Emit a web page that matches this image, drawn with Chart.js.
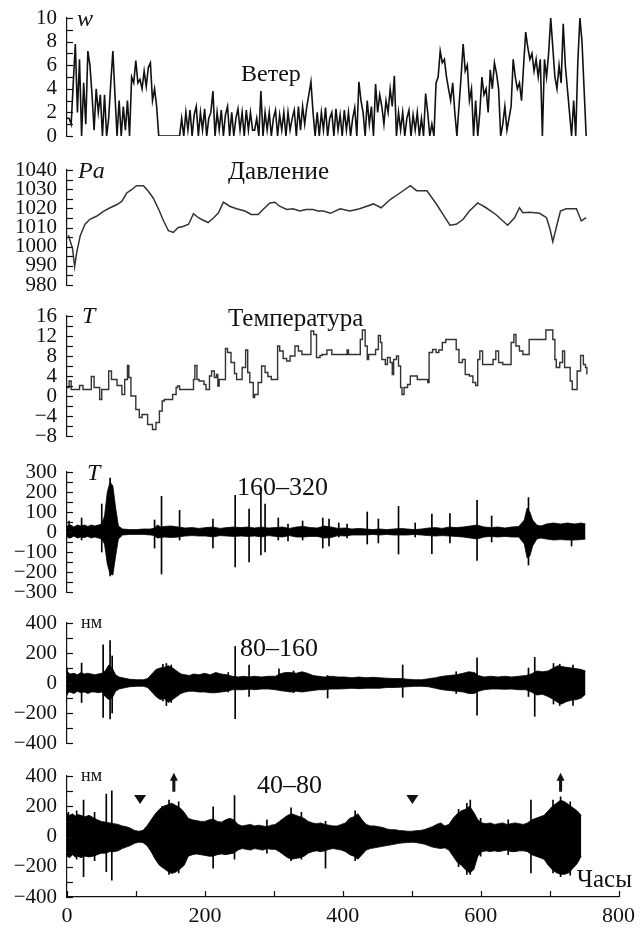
<!DOCTYPE html>
<html><head><meta charset="utf-8">
<script src="https://cdn.jsdelivr.net/npm/chart.js@4.4.1/dist/chart.umd.min.js"></script>
<style>
html,body{margin:0;padding:0;background:#fff;width:641px;height:930px;overflow:hidden;position:relative;}
.p{position:absolute;left:0;width:641px;}
.t{position:absolute;font-family:"Liberation Serif","DejaVu Serif",serif;color:#111;white-space:nowrap;line-height:1;font-size:24px;}
.i{font-style:italic;}
</style></head><body>
<script>
// ---------------- DATA ----------------
const xTickLabels = [0, 200, 400, 600, 800];

// Wind speed, sampled every 3 hours
const windStepHours = 3;
const wind = [
  1.5,1.5,1,4.5,7.8,   2,6.5,0,4.5,1,   7.2,6,3.5,0.5,4,   2,3.5,0,3.5,0,
  1.5,4.5,7.2,3.5,0,   3,0,2.5,0.5,3,   0,5,4.5,6.4,4.5,   4.8,4,5.5,4.2,5.8,
  6.2,3,4,2.5,0,
  0,0,0,0,0,0,0,0,0,0,
  1.5,0,2,0.5,2.2,0,1.8,2.5,0,2,0.5,2.3,0,1.5,2,
  3.8,
  0,2,0.5,2.2,0,1.8,2.5,0,2,0,1.5,2.3,0.5,2,0,2.2,0.5,2,
  0.5,0.5,1.5,0,
  3.8,
  0,2,0.5,2,0,1.5,2.2,0,1.8,0.5,2,0,2,0.5,1.5,2.2,0,2.5,0.5,2.5,1,2.5,
  3.5,4.6,2,0,2,
  0,2,0.5,2.4,0,1.5,2,0,2.3,0.5,1.8,0,2.2,0.5,2,0,1.5,2.4,0,
  4.6,3,2,0,3,1,2.5,0,
  4.4,2,3.5,2.5,1,3,2,4,2.5,5.1,
  0,2,0.5,2,0,1.5,2.2,0,1.8,0.5,2,0,1.5,0,
  3.6,2,0,
  1,0,4.5,5,
  7.2,
  6.2,6.5,5,
  4,3,4.5,2,0,2.5,
  5,7.8,
  5.5,6,3,4,0,3,0,
  2,5,3.5,4,2,5.6,4,6.2,5.3,4,
  0,1,2.5,0.5,1.5,2.5,
  6.5,5,4,4.5,3,6,
  8.8,7.5,6.5,7,5.5,6.5,
  5,6.5,0,6.5,
  5,7,10,7.5,
  5,4,6,4.5,9.5,6,
  4,2,0,3,0,
  6.3,10,8,4,0
];
const windHours = wind.map((_, i) => i * windStepHours);

// Pressure
const pressureHours = [2,8,11,14,19,26,33,43,53,62, 72,79,86,93,100,110,117,124,132,139,
  146,153,160,167,175,182,189,196,203,211, 218,225,234,244,256,265,275,282,292,299,
  306,316,325,335,344,354,361,369,379,393, 407,421,441,452,465,479,494,503,518,532,
  541,551,560,570,579,591,603,617,634,644, 651,656,666,680,690,695,699,704,710,718, 733,740,747];
const pressure = [1006,999,989.5,997,1005.7,1011.7,1014.3,1016,1018.6,1020.3,
  1022,1023.7,1028,1029.7,1031.8,1031.8,1028.9,1025.4,1019.4,1013.4,
  1008.3,1007.4,1010,1010.5,1011.7,1017.2,1015.1,1013.8,1012.6,1015.1,
  1017.7,1023.2,1021.1,1019.8,1018.6,1016.8,1016.8,1019.4,1022.8,1023.2,
  1021.1,1019.4,1019.8,1018.6,1019.4,1019.4,1018.6,1018.6,1017.4,1019.8,
  1018.6,1019.8,1022.3,1020.3,1024.6,1028,1031.8,1029.2,1029.2,1022,
  1016.8,1011.2,1011.7,1014.3,1018.6,1022.8,1020.3,1016.8,1011.2,1015.1,
  1020.3,1017.7,1018,1017.4,1015.1,1009.1,1002.6,1010,1018.6,1019.8,
  1019.8,1013.4,1015.1];

// Temperature
const tempHours = [0,3,6,18,23,35,39,47,50,60, 64,72,79,83,87,89,92,99,104,108,
  116,123,128,133,137,140,152,157,159,162, 182,184,187,190,197,200,205,208,212,215,
  217,219,228,231,236,241,244,252,257,260, 263,268,270,275,280,285,289,294,303,306,
  311,316,321,328,333,338,351,355,359,364, 367,374,381,403,405,422,425,429,432,434,
  444,448,451,453,458,461,465,468,470,474, 477,480,482,485,490,494,504,519,521,526,
  531,535,540,545,560,564,569,573,579,584, 588,591,594,598,613,617,621,627,639,643,
  646,651,656,665,689,699,702,704,709,713, 716,724,727,734,739,743,746,748];
const temp = [1.7,3,1.3,2.1,1.3,3.9,1.7,-0.7,1.3,5, 3.3,2.1,0.3,3.3,6.1,3.7,0,-2.7,-4.3,-3.7,
  -5.7,-6.7,-5.3,-3,-1,-0.7,0.3,1.7,2,1.3, 3.3,6.1,3.3,3,2.3,1.3,4,5,3.7,4.3,
  2,3.3,9.5,8.7,6.7,4.5,3.3,5.7,9.2,4.7, 2.7,-0.3,0.3,2.7,6,4.7,3.9,3.3,10,9,
  7.5,7,8,10,9,8.3,13,12.3,7.7,8.1, 8.3,9.2,8.3,9.2,8.3,11.3,13.2,10,7.3,8.3,
  9.3,12.1,10.7,7.3,6.3,7.7,6.7,4.3,7.3,8, 6,1.7,0.3,1.7,2.3,4,3.3,2.7,8.7,9.3,
  8.7,9.2,10.7,11.3,9.3,6.7,7.3,4.3,4,2.7, 2.1,7.3,9,6.3,7.3,9,6.7,6.3,10.7,12.3,
  10,9,8.3,11.3,13.2,11.3,7.3,5.7,6.7,9, 5.7,3,1.3,5,8.1,6.3,5.7,4.3];

// Band 160-320 : envelope and isolated spikes
const b160Hours = [0,5,10,15,20,25,30,35,40,45, 50,54,58,62,66,70,74,80,90,100,
  110,120,126,130,135,140,150,160,170,180, 190,200,210,220,230,240,250,260,270,280,
  290,300,310,320,330,340,350,360,370,380, 390,400,410,420,430,440,450,460,470,480,
  490,500,510,520,530,540,550,560,570,580, 590,600,610,620,630,640,650,658,662,666,
  670,676,682,690,700,710,720,730,740,746];
const b160Upper = [30,35,25,35,30,35,28,35,30,35, 40,80,200,250,230,120,30,15,12,12,
  15,15,20,35,25,28,30,25,20,22, 18,22,25,18,22,25,22,25,20,25,
  20,22,25,18,25,28,22,20,30,25, 18,20,15,18,15,12,15,12,15,18,
  15,12,15,20,22,18,25,22,25,30, 35,25,22,25,20,25,28,60,120,100,
  60,35,30,40,45,40,45,40,45,40];
const b160Lower = [-25,-30,-20,-30,-25,-28,-22,-30,-25,-30, -35,-60,-160,-210,-215,-120,-35,-15,-12,-12,
  -12,-15,-18,-30,-28,-25,-28,-25,-20,-18, -20,-20,-25,-18,-20,-22,-20,-22,-20,-25,
  -18,-22,-25,-18,-25,-25,-22,-22,-30,-28, -18,-20,-15,-15,-15,-12,-15,-12,-15,-15,
  -15,-12,-15,-18,-20,-18,-20,-22,-25,-30, -35,-25,-22,-25,-22,-25,-25,-60,-130,-120,
  -70,-35,-30,-35,-40,-38,-40,-40,-38,-35];
const b160SpikeHours = [3,21,50,62,126,136,162,210,242,262,279,285,304,318,339,368,377,391,403,432,448,477,501,525,551,590,611,664,726];
const b160SpikeHi = [55,70,140,270,60,178,108,65,183,115,200,140,70,40,55,70,65,45,40,100,65,128,45,90,92,158,80,172,40];
const b160SpikeLo = [-30,-40,-100,-220,-80,-210,-40,-80,-175,-150,-115,-100,-40,-45,-40,-80,-70,-25,-30,-60,-55,-110,-25,-108,-55,-142,-50,-165,-70];

// Band 80-160
const b80Hours = [0,4,10,15,20,25,30,35,40,45, 50,55,60,65,70,75,80,90,100,110,
  116,122,128,134,140,146,152,158,164,170, 176,182,190,198,206,214,222,230,238,246,
  254,262,270,280,290,300,306,314,322,330, 338,346,354,362,370,380,390,400,410,420,
  430,440,450,460,470,480,490,500,510,520, 530,540,550,560,570,578,586,592,600,610,
  620,630,640,650,660,668,676,684,692,700, 706,712,718,726,734,740,746];
const b80Upper = [80,60,65,55,70,60,65,60,55,60, 65,80,120,100,55,40,35,25,22,22,
  30,60,90,100,105,115,100,80,60,55, 50,60,55,65,55,70,60,55,45,40,
  45,40,45,40,45,45,60,70,70,65, 75,65,50,45,40,45,40,40,35,40,
  35,38,35,32,30,30,25,22,22,28, 35,45,50,55,65,75,70,50,40,45,
  40,45,40,45,50,60,80,75,80,100, 115,110,105,100,95,90,80];
const b80Lower = [-70,-60,-70,-55,-65,-60,-70,-60,-60,-65, -60,-90,-110,-100,-55,-40,-35,-25,-22,-22,
  -30,-60,-90,-110,-105,-130,-110,-90,-70,-60, -55,-55,-60,-60,-65,-65,-60,-55,-45,-45,
  -45,-40,-45,-40,-40,-45,-50,-55,-60,-55, -60,-55,-50,-45,-45,-40,-40,-38,-35,-38,
  -35,-35,-35,-30,-30,-28,-25,-22,-22,-25, -35,-45,-50,-55,-60,-70,-70,-55,-45,-40,
  -40,-42,-40,-45,-45,-60,-80,-75,-90,-110, -130,-140,-125,-115,-110,-100,-75];
const b80SpikeHours = [0,21,52,62,65,138,143,150,232,242,262,305,326,375,483,560,590,664,673,700,709,728];
const b80SpikeHi = [100,133,255,282,180,125,130,120,70,244,120,95,80,50,120,75,167,100,171,130,125,120];
const b80SpikeLo = [-80,-130,-230,-240,-200,-120,-150,-130,-60,-238,-90,-40,-65,-100,-95,-70,-215,-90,-222,-140,-150,-150];

// Band 40-80
const b40Hours = [0,4,8,12,16,20,26,32,38,44, 50,56,62,68,74,80,86,92,98,104,
  110,116,122,128,134,140,146,152,158,164, 170,176,182,188,194,200,206,212,218,224,
  230,236,242,248,254,260,266,272,278,284, 290,296,302,308,314,320,326,332,338,344,
  350,356,362,368,374,380,386,392,398,404, 410,416,422,428,434,440,446,452,458,464,
  470,476,482,488,494,500,506,512,518,524, 530,536,542,548,554,560,566,572,578,584,
  590,596,602,608,614,620,626,632,638,644, 650,656,662,668,674,680,686,692,698,704,
  710,716,722,728,734,740,746];
const b40Upper = [150,140,150,135,145,140,130,140,125,110, 100,95,90,85,80,70,65,55,40,35,
  40,70,110,150,180,200,210,220,205,190, 160,120,110,105,100,100,110,115,100,95,
  110,120,110,80,70,75,80,70,75,70, 65,75,80,100,120,140,150,140,130,120,
  100,90,85,90,80,75,70,70,80,90, 120,130,150,110,80,70,70,65,60,50,
  45,45,40,38,35,35,38,40,45,55, 65,80,90,70,80,120,150,170,180,200,
  160,110,90,85,90,80,85,90,80,85, 90,85,80,90,110,120,130,140,170,200,
  220,240,230,210,190,170,140];
const b40Lower = [-130,-140,-120,-135,-130,-140,-130,-135,-130,-120, -110,-110,-100,-100,-95,-80,-70,-60,-45,-38,
  -40,-60,-100,-150,-190,-210,-230,-245,-235,-215, -190,-130,-120,-115,-120,-125,-130,-130,-120,-115,
  -120,-115,-110,-90,-80,-85,-90,-80,-85,-90, -80,-85,-85,-100,-120,-140,-150,-145,-140,-130,
  -110,-100,-95,-100,-95,-85,-80,-85,-90,-100, -120,-130,-150,-120,-90,-80,-75,-70,-65,-60,
  -55,-50,-45,-42,-40,-38,-40,-45,-50,-60, -70,-75,-80,-75,-90,-130,-170,-190,-220,-240,
  -220,-130,-100,-95,-100,-95,-100,-95,-90,-100, -100,-95,-95,-100,-120,-130,-140,-150,-190,-220,
  -240,-250,-250,-240,-210,-180,-130];
const b40SpikeHours = [2,14,24,40,57,65,138,148,162,212,243,290,325,340,375,418,568,580,585,600,640,673,705,716,730];
const b40SpikeHi = [160,170,240,160,280,302,200,240,230,196,270,110,190,160,100,170,180,220,240,120,110,240,240,262,230];
const b40SpikeLo = [-130,-150,-265,-160,-232,-288,-200,-250,-240,-209,-150,-110,-160,-150,-210,-160,-200,-250,-250,-130,-120,-240,-240,-266,-255];

// Event markers on the bottom panel (hours)
const triangleHours = [106, 501];
const arrowHours = [155, 716];

// ---------------- STYLE / LAYOUT ----------------
const FONT = '"Liberation Serif","DejaVu Serif",serif';
const INK = '#111';
const AXIS_X = 67, RIGHT_X = 623, PAGE_W = 641, PAD = 26;

const xy = (hs, vs) => hs.map((h, i) => ({x: h, y: vs[i]}));
const spikes = (hs, hi, lo) => hs.map((h, i) => ({x: h, y: [lo[i], hi[i]]}));
const fmt = v => String(v).replace('-', '\u2212');

const inwardTicks = {
  id: 'inwardTicks',
  afterDraw(chart) {
    const {ctx, chartArea: a, scales} = chart;
    ctx.save();
    ctx.strokeStyle = INK; ctx.lineWidth = 1.2;
    scales.y.ticks.forEach(t => {
      const py = Math.round(scales.y.getPixelForValue(t.value)) + 0.5;
      ctx.beginPath(); ctx.moveTo(a.left, py); ctx.lineTo(a.left + 6, py); ctx.stroke();
    });
    if (scales.x.options.display) {
      scales.x.ticks.forEach(t => {
        const px = Math.round(scales.x.getPixelForValue(t.value)) + 0.5;
        ctx.beginPath(); ctx.moveTo(px, a.bottom); ctx.lineTo(px, a.bottom - 6); ctx.stroke();
      });
    }
    ctx.restore();
  }
};

const markerStyle = {triTop: 274, triH: 9, triW: 12, arrowTip: 422, arrowBase: 296};
const markers = {
  id: 'markers',
  afterDraw(chart) {
    const {ctx, scales: {x, y}} = chart;
    ctx.save(); ctx.fillStyle = INK;
    triangleHours.forEach(h => {
      const px = x.getPixelForValue(h), py = y.getPixelForValue(markerStyle.triTop);
      ctx.beginPath();
      ctx.moveTo(px - markerStyle.triW / 2, py); ctx.lineTo(px + markerStyle.triW / 2, py);
      ctx.lineTo(px, py + markerStyle.triH); ctx.closePath(); ctx.fill();
    });
    arrowHours.forEach(h => {
      const px = x.getPixelForValue(h);
      const tip = y.getPixelForValue(markerStyle.arrowTip), base = y.getPixelForValue(markerStyle.arrowBase);
      ctx.beginPath();
      ctx.moveTo(px, tip); ctx.lineTo(px + 4, tip + 8); ctx.lineTo(px - 4, tip + 8); ctx.closePath(); ctx.fill();
      ctx.fillRect(px - 1.5, tip + 6, 3, base - tip - 6);
    });
    ctx.restore();
  }
};

function makePanel(top, bottom, yCfg, datasets, bottomAxis, extraPlugins) {
  const div = document.createElement('div');
  div.className = 'p';
  const extra = bottomAxis ? 40 : PAD;
  div.style.top = (top - PAD) + 'px';
  div.style.height = (bottom - top + PAD + extra) + 'px';
  const c = document.createElement('canvas');
  div.appendChild(c); document.body.appendChild(div);
  const xScale = {
    type: 'linear', min: 0, max: 800, display: !!bottomAxis, offset: false,
    ticks: {stepSize: 100, autoSkip: false, maxRotation: 0, padding: 6, color: INK,
      font: {family: FONT, size: 22},
      callback: v => xTickLabels.includes(v) ? String(v) : ''},
    grid: {display: false, drawTicks: false, offset: false},
    border: {display: true, color: INK, width: 1.2}
  };
  if (bottomAxis) xScale.afterFit = s => { s.height = 40; };
  new Chart(c, {
    type: 'line',
    data: {datasets},
    options: {
      responsive: true, maintainAspectRatio: false, animation: false,
      layout: {padding: {top: PAD, bottom: bottomAxis ? 0 : PAD, left: 0, right: PAGE_W - RIGHT_X}},
      plugins: {legend: {display: false}, tooltip: {enabled: false}},
      elements: {point: {radius: 0}},
      scales: {
        x: xScale,
        y: {
          min: yCfg.min, max: yCfg.max,
          ticks: {stepSize: yCfg.step, autoSkip: false, padding: 10, color: INK,
            font: {family: FONT, size: 21},
            callback: v => yCfg.labels.includes(v) ? fmt(v) : ''},
          grid: {display: false, drawTicks: false},
          border: {display: true, color: INK, width: 1.2},
          afterFit: s => { s.width = AXIS_X; }
        }
      }
    },
    plugins: [inwardTicks].concat(extraPlugins || [])
  });
}

function bandDatasets(hs, up, lo, sh, shi, slo) {
  return [
    {data: xy(hs, lo), borderColor: '#000', borderWidth: 0.8, fill: false},
    {data: xy(hs, up), borderColor: '#000', borderWidth: 0.8, fill: '-1', backgroundColor: '#000'},
    {type: 'bar', data: spikes(sh, shi, slo), backgroundColor: '#000', barThickness: 1, grouped: false}
  ];
}

// Panel 1: wind
makePanel(18, 136, {min: 0, max: 10, step: 1, labels: [0,2,4,6,8,10]},
  [{data: xy(windHours, wind), borderColor: '#111', borderWidth: 1.6}]);
// Panel 2: pressure
makePanel(170, 285, {min: 980, max: 1040, step: 5, labels: [980,990,1000,1010,1020,1030,1040]},
  [{data: xy(pressureHours, pressure), borderColor: '#333', borderWidth: 1.5}]);
// Panel 3: temperature
makePanel(316, 436, {min: -8, max: 16, step: 2, labels: [-8,-4,0,4,8,12,16]},
  [{data: xy(tempHours, temp), borderColor: '#333', borderWidth: 1.4, stepped: true}]);
// Panel 4: 160-320
makePanel(472, 592, {min: -300, max: 300, step: 50, labels: [-300,-200,-100,0,100,200,300]},
  bandDatasets(b160Hours, b160Upper, b160Lower, b160SpikeHours, b160SpikeHi, b160SpikeLo));
// Panel 5: 80-160
makePanel(623, 743, {min: -400, max: 400, step: 100, labels: [-400,-200,0,200,400]},
  bandDatasets(b80Hours, b80Upper, b80Lower, b80SpikeHours, b80SpikeHi, b80SpikeLo));
// Panel 6: 40-80 with time axis
makePanel(776, 897, {min: -400, max: 400, step: 100, labels: [-400,-200,0,200,400]},
  bandDatasets(b40Hours, b40Upper, b40Lower, b40SpikeHours, b40SpikeHi, b40SpikeLo), true, [markers]);

// ---------------- TEXT ----------------
function label(text, left, baseline, size, cls, right) {
  const d = document.createElement('div');
  d.className = 't' + (cls ? ' ' + cls : '');
  d.textContent = text;
  d.style.fontSize = size + 'px';
  d.style.top = (baseline - 0.8375 * size) + 'px';
  if (right) d.style.right = (PAGE_W - left) + 'px'; else d.style.left = left + 'px';
  document.body.appendChild(d);
}
label('w', 77, 26, 24, 'i');
label('Ветер', 241, 81, 24);
label('Pa', 78, 178, 24, 'i');
label('Давление', 228, 179, 25);
label('T', 82, 323, 24, 'i');
label('Температура', 228, 326, 25);
label('T', 87, 480, 24, 'i');
label('160–320', 237, 496, 26);
label('нм', 81, 628, 18);
label('80–160', 240, 657, 26);
label('нм', 81, 781, 18);
label('40–80', 257, 794, 26);
label('Часы', 632, 887, 25, '', true);
</script>
</body></html>
